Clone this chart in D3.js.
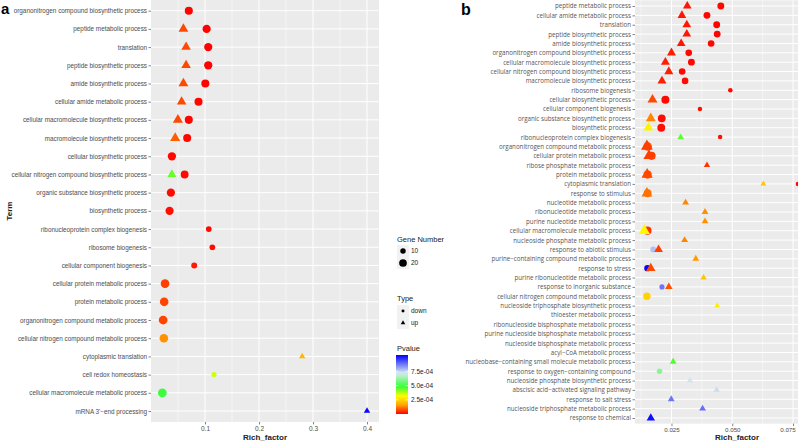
<!DOCTYPE html>
<html><head><meta charset="utf-8">
<script src="https://cdn.jsdelivr.net/npm/d3@7"></script>
<style>
body{margin:0;background:#fff;}
svg{display:block;font-family:"Liberation Sans",Arial,sans-serif;}
</style>
</head><body>
<svg id="chart" width="798" height="442"></svg>
<script>
// ---------- Panel a data ----------
const termsA = [
"organonitrogen compound biosynthetic process","peptide metabolic process","translation",
"peptide biosynthetic process","amide biosynthetic process","cellular amide metabolic process",
"cellular macromolecule biosynthetic process","macromolecule biosynthetic process","cellular biosynthetic process",
"cellular nitrogen compound biosynthetic process","organic substance biosynthetic process","biosynthetic process",
"ribonucleoprotein complex biogenesis","ribosome biogenesis","cellular component biogenesis",
"cellular protein metabolic process","protein metabolic process","organonitrogen compound metabolic process",
"cellular nitrogen compound metabolic process","cytoplasmic translation","cell redox homeostasis",
"cellular macromolecule metabolic process","mRNA 3'\u2212end processing"];
const aRow   = [0,1,1,2,2,3,3,4,4,5,5,6,6,7,7,8,9,9,10,11,12,13,14,15,16,17,18,19,20,21,22];
const aType  = ["down","up","down","up","down","up","down","up","down","up","down","up","down","up","down",
                "down","up","down","down","down","down","down","down","down","down","down","down","up","down","down","up"];
const aRich  = [0.070,0.060,0.103,0.065,0.106,0.065,0.106,0.060,0.1006,0.0567,0.088,0.0498,0.070,0.0448,0.067,
                0.0387,0.0387,0.0623,0.0368,0.0344,0.107,0.1136,0.080,0.026,0.0244,0.0225,0.0238,0.280,0.1167,0.021,0.400];
const aGenes = [22,19,23,18,23,18,23,19,22,18,22,20,22,20,22,23,16,21,23,23,11,11,12,25,25,26,25,8,9,26,8];
const aP     = [3e-6,7e-5,2e-6,7e-5,2e-6,7e-5,2e-6,7e-5,3e-6,7e-5,4e-6,7e-5,5e-6,9e-5,6e-6,
                1e-5,4.4e-4,1e-5,1.2e-5,1.5e-5,1e-5,1.2e-5,2.5e-5,6e-5,6.5e-5,6.5e-5,1.4e-4,1.9e-4,3.6e-4,4.9e-4,1.03e-3];
const aTicks = [0.1,0.2,0.3,0.4];

// ---------- Panel b data ----------
const termsB = [
"peptide metabolic process","cellular amide metabolic process","translation","peptide biosynthetic process",
"amide biosynthetic process","organonitrogen compound biosynthetic process","cellular macromolecule biosynthetic process",
"cellular nitrogen compound biosynthetic process","macromolecule biosynthetic process","ribosome biogenesis",
"cellular biosynthetic process","cellular component biogenesis","organic substance biosynthetic process",
"biosynthetic process","ribonucleoprotein complex biogenesis","organonitrogen compound metabolic process",
"cellular protein metabolic process","ribose phosphate metabolic process","protein metabolic process",
"cytoplasmic translation","response to stimulus","nucleotide metabolic process","ribonucleotide metabolic process",
"purine nucleotide metabolic process","cellular macromolecule metabolic process","nucleoside phosphate metabolic process",
"response to abiotic stimulus","purine\u2212containing compound metabolic process","response to stress",
"purine ribonucleotide metabolic process","response to inorganic substance","cellular nitrogen compound metabolic process",
"nucleoside triphosphate biosynthetic process","thioester metabolic process","ribonucleoside bisphosphate metabolic process",
"purine nucleoside bisphosphate metabolic process","nucleoside bisphosphate metabolic process","acyl\u2212CoA metabolic process",
"nucleobase\u2212containing small molecule metabolic process","response to oxygen\u2212containing compound",
"nucleoside phosphate biosynthetic process","abscisic acid\u2212activated signaling pathway","response to salt stress",
"nucleoside triphosphate metabolic process","response to chemical"];
const bRow   = [0,0,1,1,2,2,3,3,4,4,5,5,6,6,7,7,8,8,9,10,10,11,12,12,13,13,14,14,15,15,16,16,17,18,18,19,19,20,20,
                21,22,23,24,24,25,26,26,27,28,28,29,30,30,31,32,38,39,40,41,42,43,44];
const bType  = ["up","down","up","down","up","down","up","down","up","down","up","down","up","down","up","down","up","down",
                "down","up","down","down","up","down","up","down","up","down","down","up","down","up","up","down","up",
                "up","down","down","up","up","up","up","down","up","up","down","up","up","down","up","up","down","up",
                "down","up","up","down","up","up","up","up","up"];
const bRich  = [0.0315,0.0453,0.0293,0.0396,0.0313,0.0436,0.0313,0.0438,0.029,0.0413,0.025,0.0321,0.0225,0.0332,
                0.0239,0.0294,0.0211,0.0306,0.0492,0.0172,0.0225,0.0367,0.0165,0.021,0.0155,0.0208,0.0288,0.045,
                0.0152,0.0149,0.0168,0.0158,0.0396,0.0152,0.0150,0.0628,0.077,0.0152,0.0149,0.0308,0.0388,0.0388,
                0.0151,0.0138,0.0304,0.0175,0.0197,0.035,0.0151,0.0165,0.0382,0.0211,0.0239,0.0149,0.0438,
                0.0257,0.0201,0.0326,0.0436,0.0249,0.0378,0.0165];
const bGenes = [13,14,13,14,13,14,13,14,13,13,14,13,14,14,14,13,14,13,6,17,19,6,17,18,17,18,7,6,
                22,24,20,22,7,20,22,6,6,18,20,8,8,8,20,22,8,10,13,8,12,15,7,8,10,16,6,8,9,7,7,8,8,12];
const bP     = [2e-5,4e-6,2e-5,5e-6,2e-5,5e-6,2e-5,5e-6,2e-5,6e-6,3e-5,8e-6,3e-5,8e-6,3e-5,9e-6,3e-5,9e-6,
                1e-5,7e-5,1e-5,1.5e-5,1.3e-4,1.2e-5,3.0e-4,1.4e-5,4.5e-4,1.5e-5,8e-5,6e-5,6e-5,6e-5,5e-5,
                8e-5,7e-5,2.2e-4,1e-5,1.1e-4,1.1e-4,1.3e-4,1.4e-4,1.4e-4,5e-5,3.1e-4,1.3e-4,7.8e-4,6e-5,
                1.5e-4,1.03e-3,7e-5,2.2e-4,8.8e-4,8e-5,2.4e-4,2.9e-4,4.6e-4,6.0e-4,7.3e-4,7.4e-4,8.8e-4,8.9e-4,1.02e-3];
const bTicks = [0.025,0.050,0.075];

// ---------- Legend data ----------
const sizeLegend = [10,20];
const typeLegend = ["down","up"];
const pTicks = [2.5e-4,5.0e-4,7.5e-4];
const pMax = 1.04e-3;
const pStops = [0,1.6e-4,3.2e-4,4.8e-4,7.2e-4,1.04e-3];
const pColors = ["#FF0000","#FFA500","#FFFF00","#33FF33","#D8ECEE","#0000FF"];

// ---------- Drawing ----------
const svg = d3.select("#chart");
const color = d3.scaleLinear().domain(pStops).range(pColors).clamp(true);
const GRAY_TXT = "#4D4D4D";

function pts(rows, types, rich, genes, p){
  return rows.map((r,i)=>({row:r,type:types[i],rich:rich[i],genes:genes[i],p:p[i]}));
}

function drawPanel(o){
  const g = svg.append("g");
  const n = o.terms.length;
  const y = d3.scalePoint().domain(d3.range(n)).range([o.yFirst,o.yLast]);
  const step = (o.yLast-o.yFirst)/(n-1);
  const top = o.yFirst-0.6*step, bot = o.yLast+0.6*step;
  const x = d3.scaleLinear().domain(o.xDomain).range([o.x0,o.x1]);
  g.append("rect").attr("x",o.x0).attr("y",top).attr("width",o.x1-o.x0).attr("height",bot-top).attr("fill","#EBEBEB");
  o.minor.forEach(v=>g.append("line").attr("x1",x(v)).attr("x2",x(v)).attr("y1",top).attr("y2",bot)
     .attr("stroke","#fff").attr("stroke-width",0.5));
  o.ticks.forEach(v=>g.append("line").attr("x1",x(v)).attr("x2",x(v)).attr("y1",top).attr("y2",bot)
     .attr("stroke","#fff").attr("stroke-width",1));
  d3.range(n).forEach(i=>g.append("line").attr("x1",o.x0).attr("x2",o.x1).attr("y1",y(i)).attr("y2",y(i))
     .attr("stroke","#fff").attr("stroke-width",1));
  const ya = g.append("g").attr("transform",`translate(${o.x0},0)`)
    .call(d3.axisLeft(y).tickSize(2.5).tickPadding(1.5).tickFormat(i=>o.terms[i]));
  ya.select(".domain").remove();
  ya.selectAll(".tick line").attr("stroke","#333").attr("stroke-width",0.6);
  ya.selectAll(".tick text").attr("font-size",o.yFont).attr("fill",o.yColor).attr("font-family",o.yFamily);
  const xa = g.append("g").attr("transform",`translate(0,${bot})`)
    .call(d3.axisBottom(x).tickValues(o.ticks).tickSize(2.5).tickPadding(1.5).tickFormat(o.fmt));
  xa.select(".domain").remove();
  xa.selectAll(".tick line").attr("stroke","#333").attr("stroke-width",0.6);
  xa.selectAll(".tick text").attr("font-size",o.xFont).attr("fill",GRAY_TXT)
    .attr("dx",(d,i,nodes)=> (x(d)+10>798 ? -(x(d)+9.5-797) : 0));
  g.append("text").attr("x",(o.x0+o.x1)/2).attr("y",440).attr("text-anchor","middle")
    .attr("font-size",8).attr("font-weight","bold").attr("fill","#222").text("Rich_factor");
  const data = o.points.slice().sort((a,b)=>(a.type==="up")-(b.type==="up"));
  const clipId = "clip"+o.id;
  svg.append("clipPath").attr("id",clipId).append("rect").attr("x",o.x0).attr("y",top).attr("width",o.x1-o.x0).attr("height",bot-top);
  const pg = g.append("g").attr("clip-path",`url(#${clipId})`);
  pg.selectAll("path.pt").data(data).join("path").attr("class","pt")
    .attr("transform",d=>`translate(${x(d.rich)},${y(d.row)})`)
    .attr("d",d=>{
      const r = o.size(d.genes);
      return d.type==="up" ? d3.symbol(d3.symbolTriangle, Math.PI*r*r*0.95)()
                           : d3.symbol(d3.symbolCircle, Math.PI*r*r)();
    })
    .attr("fill",d=>color(d.p));
  return g;
}

const sizeA = d3.scaleSqrt().domain([0,25]).range([0,4.3]);
const sizeB = d3.scaleSqrt().domain([0,25]).range([0,4.6]);

drawPanel({id:"a",terms:termsA,points:pts(aRow,aType,aRich,aGenes,aP),yFirst:10.7,yLast:411,
  x0:151,x1:379,xDomain:[0,0.4222],ticks:aTicks,minor:[0.05,0.15,0.25,0.35],fmt:d3.format(".1f"),
  yFont:6.35,yColor:"#4D4D4D",yFamily:"Liberation Sans, Arial, sans-serif",xFont:6.5,size:sizeA});
drawPanel({id:"b",terms:termsB,points:pts(bRow,bType,bRich,bGenes,bP),yFirst:6,yLast:418,
  x0:635,x1:839,xDomain:[0.01,0.0939],ticks:bTicks,minor:[0.0125,0.0375,0.0625,0.0875],fmt:d3.format(".3f"),
  yFont:6.2,yColor:"#555",yFamily:"Open Sans, Liberation Sans, sans-serif",xFont:6.2,size:sizeB});

svg.append("text").attr("x",1).attr("y",14).attr("font-size",15).attr("font-weight","bold").text("a");
svg.append("text").attr("x",461).attr("y",15).attr("font-size",16).attr("font-weight","bold").text("b");
svg.append("text").attr("transform","translate(12,211) rotate(-90)").attr("text-anchor","middle")
  .attr("font-size",8).attr("font-weight","bold").attr("fill","#222").text("Term");

// ---------- Legends (panel a) ----------
const lg = svg.append("g");
const lx = 397, kx = 403;
lg.append("text").attr("x",lx).attr("y",242).attr("font-size",7.5).attr("fill","#222").text("Gene Number");
sizeLegend.forEach((v,i)=>{
  const cy = 251+i*12;
  lg.append("rect").attr("x",kx-6).attr("y",cy-6).attr("width",12).attr("height",12).attr("fill","#F2F2F2");
  lg.append("circle").attr("cx",kx).attr("cy",cy).attr("r",sizeA(v)).attr("fill","#000");
  lg.append("text").attr("x",kx+8).attr("y",cy+2.3).attr("font-size",6.5).attr("fill","#222").text(v);
});
lg.append("text").attr("x",lx).attr("y",301).attr("font-size",7.5).attr("fill","#222").text("Type");
typeLegend.forEach((v,i)=>{
  const cy = 311+i*12;
  lg.append("rect").attr("x",kx-6).attr("y",cy-6).attr("width",12).attr("height",12).attr("fill","#F2F2F2");
  lg.append("path").attr("transform",`translate(${kx},${cy})`)
    .attr("d",d3.symbol(v==="up"?d3.symbolTriangle:d3.symbolCircle, v==="up"?9:7)()).attr("fill","#000");
  lg.append("text").attr("x",kx+8).attr("y",cy+2.3).attr("font-size",6.5).attr("fill","#222").text(v);
});
lg.append("text").attr("x",lx).attr("y",351).attr("font-size",7.5).attr("fill","#222").text("Pvalue");
const cb = d3.scaleLinear().domain([0,pMax]).range([414,355]);
const grad = svg.append("defs").append("linearGradient").attr("id","pgrad")
  .attr("x1",0).attr("y1",1).attr("x2",0).attr("y2",0);
d3.range(0,1.0001,0.05).forEach(t=>grad.append("stop").attr("offset",t).attr("stop-color",color(t*pMax)));
lg.append("rect").attr("x",396).attr("y",355).attr("width",12).attr("height",59).attr("fill","url(#pgrad)");
pTicks.forEach(v=>{
  lg.append("line").attr("x1",396).attr("x2",398.5).attr("y1",cb(v)).attr("y2",cb(v)).attr("stroke","#fff").attr("stroke-width",0.7);
  lg.append("line").attr("x1",405.5).attr("x2",408).attr("y1",cb(v)).attr("y2",cb(v)).attr("stroke","#fff").attr("stroke-width",0.7);
  lg.append("text").attr("x",411).attr("y",cb(v)+2.3).attr("font-size",6.5).attr("fill","#222").text(d3.format(".1e")(v).replace("e-4","e-04"));
});
</script>
</body></html>
